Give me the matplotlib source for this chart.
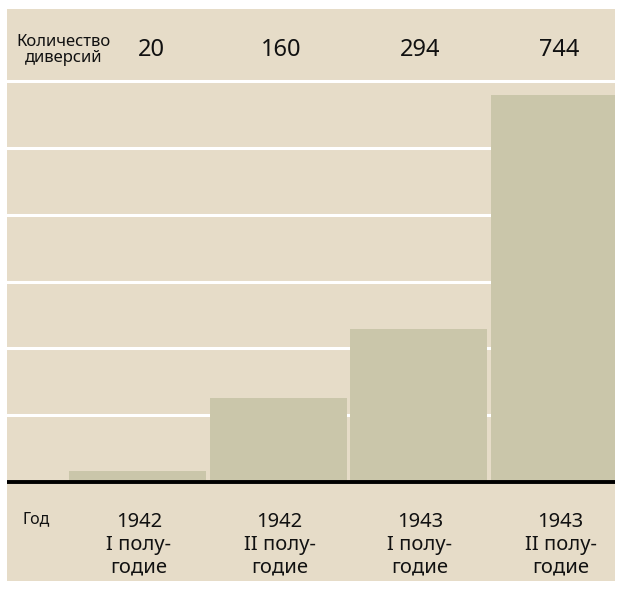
import numpy as np
import matplotlib.pyplot as plt

plt.rcParams["font.family"] = ["Noto Sans", "DejaVu Sans"]

bg_color = "#e6dcc8"
bar_color = "#cac6aa"
text_color = "#111111"

# data
counts = [20, 160, 294, 744]
count_labels = ["20", "160", "294", "744"]
years = ["1942", "1942", "1943", "1943"]
halves = ["I полу-", "II полу-", "I полу-", "II полу-"]
grid_step = 128.3


def main():
    fig = plt.figure(figsize=(6.22, 5.9), dpi=100, facecolor="white")
    ax = fig.add_axes([7 / 622, 9 / 590, 608 / 622, 572 / 590])
    ax.set_facecolor(bg_color)

    x = np.arange(len(counts))
    ax.bar(x, counts, width=0.975, color=bar_color, zorder=2)

    ax.set_xlim(-0.929, 3.398)
    ax.set_ylim(-191, 909)

    ax.set_yticks(grid_step * np.arange(1, 7))
    ax.grid(True, axis="y", color="white", lw=2.2, zorder=1)
    ax.set_axisbelow(True)
    ax.tick_params(left=False, bottom=False, labelleft=False, labelbottom=False)
    for s in ax.spines.values():
        s.set_visible(False)

    ax.axhline(0, color="black", lw=2.8, zorder=3)

    # header row
    ax.text(
        -0.86, 830, "Количество\nдиверсий",
        ha="left", va="center", multialignment="center",
        fontsize=12, color=text_color, linespacing=1.0,
        fontweight="medium",
    )
    offsets = [0.1, 0.02, 0.01, 0.0]
    for xi, lab, off in zip(x, count_labels, offsets):
        ax.text(
            xi + off, 830, lab, ha="center", va="center",
            fontsize=17, color=text_color,
        )

    # footer row
    ax.text(
        -0.817, -72, "Год", ha="left", va="center",
        fontsize=11.5, color=text_color, fontweight="medium",
    )
    for xi, yr, half in zip(x, years, halves):
        ax.text(
            xi + 0.01, -121, "{}\n{}\nгодие".format(yr, half),
            ha="center", va="center", multialignment="center",
            fontsize=14.5, color=text_color, linespacing=1.18,
        )

    fig.savefig("out.png", dpi=100, facecolor="white")


if __name__ == "__main__":
    main()
